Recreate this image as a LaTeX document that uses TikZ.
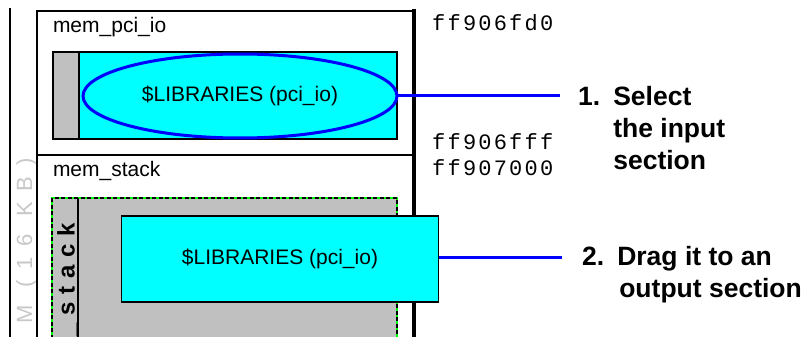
\documentclass[tikz,border=0pt]{standalone}
\usepackage{fontspec}
\setmainfont{Liberation Sans}
\newfontfamily\hexfont[LetterSpace=10]{Liberation Mono}
\newfontfamily\stackfont[LetterSpace=32]{Liberation Sans}
\newfontfamily\ramfont[LetterSpace=50]{Liberation Sans}
\usetikzlibrary{shapes.geometric}
\definecolor{cy}{RGB}{0,255,255}
\definecolor{gr}{RGB}{192,192,192}
\definecolor{bl}{RGB}{0,0,255}
\definecolor{gn}{RGB}{0,255,0}
\definecolor{lt}{RGB}{200,200,200}
\tikzset{
  txt/.style={inner sep=0pt, outer sep=0pt, font=\fontsize{21}{25}\selectfont},
  hex/.style={inner sep=0pt, anchor=base west, font=\hexfont\fontsize{22}{26}\selectfont},
  lbl/.style={inner sep=0pt, anchor=base west, font=\bfseries\fontsize{26.5}{32}\selectfont},
  conn/.style={draw=bl, line width=3pt},
}
\begin{document}
\begin{tikzpicture}[x=1pt,y=-1pt]
\useasboundingbox (0,0) rectangle (801,337);
\fill[white] (0,0) rectangle (801,337);
% left rule
\draw[line width=2.5pt] (10,8) -- (10,345);
\node[txt, rotate=90, anchor=base west, text=lt, font=\ramfont\fontsize{22}{26}\selectfont] (ram) at (32,323) {M (16 KB)};
% outer frame
\draw[line width=2pt] (37,345) -- (37,11) -- (414,11);
\draw[line width=1.5pt] (37,155) -- (414,155);
\draw[line width=3.5pt] (414,9) -- (414,345);
% section names
\node[txt, anchor=base west] (n1) at (53,33) {mem\_pci\_io};
\node[txt, anchor=base west] (n2) at (53,176) {mem\_stack};
% input section box
\draw[line width=1.5pt, fill=cy] (53,52) rectangle (397,139);
\draw[line width=1.5pt, fill=gr] (53,52) rectangle (79,139);
\node[txt, ellipse, draw=bl, line width=3pt, fill=cy, minimum width=314pt, minimum height=84pt] (ell) at (240,96) {\$LIBRARIES (pci\_io)};
% output section box
\fill[gr] (52,198) rectangle (397,345);
\draw[gn, line width=1.5pt] (52,345) -- (52,198) -- (397,198) -- (397,345);
\draw[black, line width=1.5pt, dash pattern=on 4pt off 2.5pt] (52,345) -- (52,198) -- (397,198) -- (397,345);
\draw[line width=1.5pt] (78,198) -- (78,345);
\node[txt, rotate=90, anchor=base west, font=\stackfont\bfseries\fontsize{24}{28}\selectfont] (stk) at (74.5,336.5) {\_stack};
% dragged box
\node[txt, draw, line width=1.5pt, fill=cy, minimum width=317pt, minimum height=86pt] (drag) at (280,259) {\$LIBRARIES (pci\_io)};
% addresses
\node[hex] (a1) at (432,31) {ff906fd0};
\node[hex] (a2) at (432,149) {ff906fff};
\node[hex] (a3) at (432,175) {ff907000};
% connectors
\coordinate (e1) at (560,96);
\coordinate (e2) at (562,257);
\draw[conn] (ell.east) -- (e1);
\draw[conn] (drag.east |- e2) -- (e2);
% labels
\node[lbl] (l1) at (578,106) {\begin{tabular}[t]{@{}l@{\hspace{13pt}}l@{}}1. & Select\\[-0.5pt] & the input\\[0pt] & section\end{tabular}};
\node[lbl] (l2) at (582,265) {\begin{tabular}[t]{@{}l@{\hspace{13pt}}l@{}}2. & Drag it to an\\[0pt] & \hspace{2pt}output section\end{tabular}};
\end{tikzpicture}
\end{document}
